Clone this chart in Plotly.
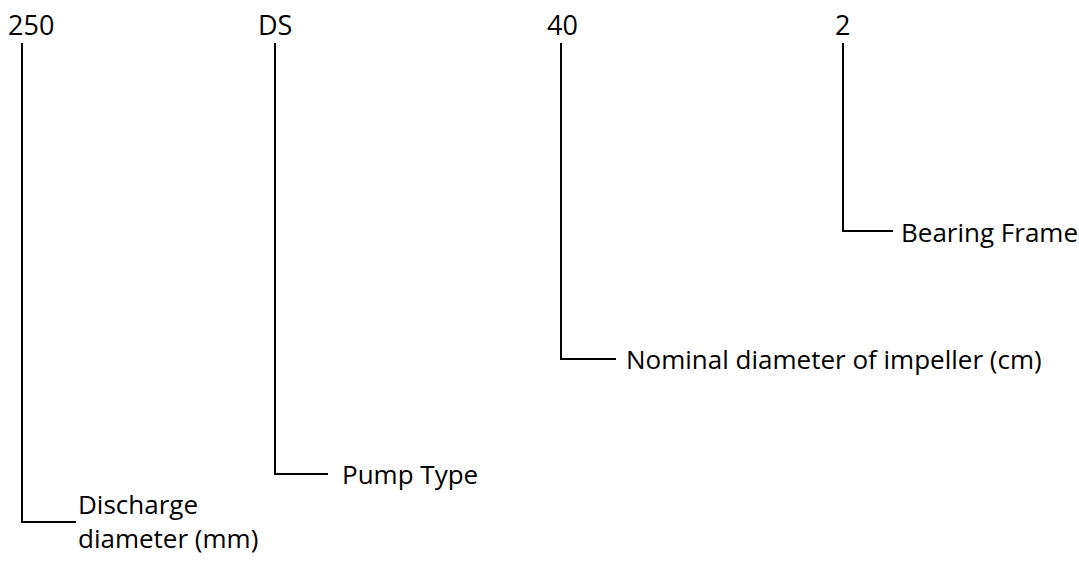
import plotly.graph_objects as go

# Data: code parts and their meanings
codes = ["250", "DS", "40", "2"]
meanings = ["Discharge<br>diameter (mm)", "Pump Type", "Nominal diameter of impeller (cm)", "Bearing Frame"]

# Layout (pixel space of the 1079x561 canvas)
code_text_x = [31, 275, 562, 842]
code_x = [22, 275, 561, 843]
code_y = 24
line_top = 43
elbow_y = [522, 474, 359, 231]
elbow_end_x = [76, 328, 616, 893]
label_x = [76, 340, 624, 899]
label_y = [521, 474, 359, 232]

W, H = 1079, 561
FONT = "'Open Sans', sans-serif"

fig = go.Figure()

for i in range(len(codes)):
    fig.add_trace(go.Scatter(
        x=[code_x[i], code_x[i], elbow_end_x[i]],
        y=[line_top, elbow_y[i], elbow_y[i]],
        mode="lines",
        line=dict(color="black", width=2),
        hoverinfo="skip",
        showlegend=False,
    ))
    fig.add_annotation(
        x=code_text_x[i], y=code_y, text=codes[i], showarrow=False,
        xanchor="center", yanchor="middle",
        font=dict(family=FONT, size=27, color="black"),
    )
    fig.add_annotation(
        x=label_x[i], y=label_y[i], text=meanings[i], showarrow=False,
        xanchor="left", yanchor="middle", align="left",
        font=dict(family=FONT, size=26, color="black"),
    )

fig.update_xaxes(range=[0, W], visible=False, fixedrange=True)
fig.update_yaxes(range=[H, 0], visible=False, fixedrange=True)
fig.update_layout(
    width=W, height=H,
    margin=dict(l=0, r=0, t=0, b=0),
    paper_bgcolor="white", plot_bgcolor="white",
    showlegend=False,
)

fig.write_html(
    "out.html",
    config={"displayModeBar": False},
    post_script="document.body.style.margin='0';document.body.style.overflow='hidden';",
)
